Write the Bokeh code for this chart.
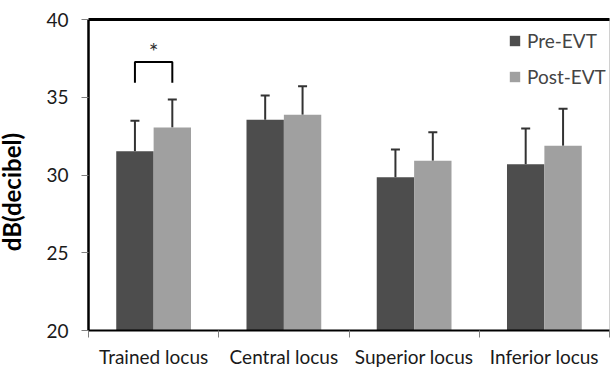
import numpy as np
from bokeh.plotting import figure
from bokeh.models import (Range1d, FixedTicker, Whisker, TeeHead, ColumnDataSource,
                          Legend, LegendItem, LinearAxis, Label)
from bokeh.core.properties import value
from bokeh.embed import file_html
from bokeh.resources import INLINE

categories = ["Trained locus", "Central locus", "Superior locus", "Inferior locus"]
series_names = ["Pre-EVT", "Post-EVT"]
pre_values = [31.53, 33.55, 29.86, 30.69]
post_values = [33.05, 33.87, 30.91, 31.88]
pre_errors = [1.96, 1.56, 1.78, 2.30]
post_errors = [1.81, 1.84, 1.84, 2.38]
y_ticks = [20, 25, 30, 35, 40]
# significance marker over the first category
sig_category = 0
sig_low = 35.93
sig_high = 37.27
sig_star_y = 38.0

FONT = "Lato"
PRE_COLOR = "#4d4d4d"
POST_COLOR = "#a0a0a0"
BAR_W = 0.287

n = len(categories)
centers = np.arange(n) + 0.5
x_pre = centers - BAR_W / 2
x_post = centers + BAR_W / 2

p = figure(width=611, height=370, output_backend="svg", toolbar_location=None,
           x_range=Range1d(0, n), y_range=Range1d(y_ticks[0], y_ticks[-1]),
           min_border_left=88, min_border_right=2, min_border_top=19, min_border_bottom=40)
p.background_fill_color = "white"
p.border_fill_color = "white"
p.outline_line_color = "#d0d0d0"
p.outline_line_width = 1
p.xgrid.visible = False
p.ygrid.visible = False

src_pre = ColumnDataSource(dict(x=x_pre, top=pre_values, up=np.array(pre_values) + np.array(pre_errors)))
src_post = ColumnDataSource(dict(x=x_post, top=post_values, up=np.array(post_values) + np.array(post_errors)))

r_pre = p.vbar(x="x", top="top", bottom=y_ticks[0], width=BAR_W, source=src_pre,
               fill_color=PRE_COLOR, line_color=None)
r_post = p.vbar(x="x", top="top", bottom=y_ticks[0], width=BAR_W, source=src_post,
                fill_color=POST_COLOR, line_color=None)

for src in (src_pre, src_post):
    w = Whisker(base="x", lower="top", upper="up", source=src, dimension="height",
                line_color="#333333", line_width=2,
                upper_head=TeeHead(size=9, line_color="#333333", line_width=2),
                lower_head=None)
    p.add_layout(w)

# significance bracket
bx0 = x_pre[sig_category]
bx1 = x_post[sig_category]
p.line([bx0, bx0, bx1, bx1], [sig_low, sig_high, sig_high, sig_low],
       line_color="black", line_width=2)
p.text(x=[(bx0 + bx1) / 2], y=[sig_star_y], text=["*"], text_align="center",
       text_baseline="middle", text_font=value(FONT), text_font_size="23px",
       text_color="#333333")

# axes
yax = p.left[0]
yax.ticker = FixedTicker(ticks=y_ticks)
yax.axis_line_color = "black"
yax.axis_line_width = 2.5
yax.major_tick_out = 7
yax.major_tick_in = 0
yax.major_tick_line_color = "#7f7f7f"
yax.minor_tick_line_color = None
yax.major_label_text_font = FONT
yax.major_label_text_font_size = "19px"
yax.major_label_text_color = "#1a1a1a"
yax.major_label_standoff = 13

xax = p.below[0]
xax.ticker = FixedTicker(ticks=list(centers), minor_ticks=list(range(n + 1)))
xax.major_label_overrides = {float(c): lab for c, lab in zip(centers, categories)}
xax.axis_line_color = "black"
xax.axis_line_width = 2
xax.major_tick_line_color = None
xax.major_tick_out = 0
xax.major_tick_in = 0
xax.minor_tick_line_color = "#7f7f7f"
xax.minor_tick_out = 7
xax.minor_tick_in = 0
xax.major_label_text_font = FONT
xax.major_label_text_font_size = "19px"
xax.major_label_text_color = "#1a1a1a"
xax.major_label_standoff = 7

# top frame line as a bare axis
top_ax = LinearAxis(axis_line_color="black", axis_line_width=3,
                    major_tick_line_color=None, minor_tick_line_color=None,
                    major_tick_out=0, major_tick_in=0,
                    major_label_text_font_size="0px", major_label_standoff=0,
                    ticker=FixedTicker(ticks=[]))
p.add_layout(top_ax, "above")

# y axis title, placed in the left panel
p.add_layout(Label(x=-3, y=28.9, x_units="screen", y_units="data", text="dB(decibel)",
                   angle=np.pi / 2, text_align="center", text_baseline="middle",
                   text_font=FONT, text_font_size="24px", text_font_style="bold",
                   text_color="black"), "left")

legend = Legend(items=[LegendItem(label=series_names[0], renderers=[r_pre]),
                       LegendItem(label=series_names[1], renderers=[r_post])],
                location=(420, 242), orientation="vertical",
                glyph_width=13, glyph_height=13, spacing=13, padding=0, margin=0,
                label_text_font=FONT, label_text_font_size="19px", label_standoff=6,
                border_line_color=None, background_fill_alpha=0)
p.add_layout(legend)

open("out.html", "w").write(file_html(p, INLINE))
